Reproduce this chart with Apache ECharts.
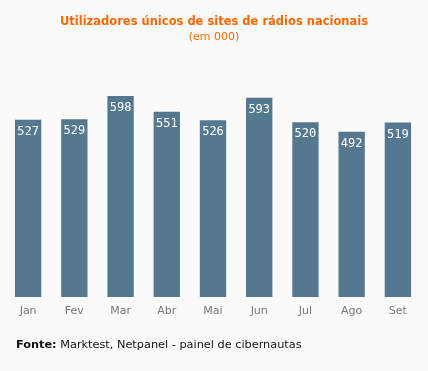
<!DOCTYPE html>
<html><head><meta charset="utf-8">
<script src="https://cdn.jsdelivr.net/npm/echarts@6/dist/echarts.min.js"></script>
<style>html,body{margin:0;padding:0;background:#fafafa;}#c{width:428px;height:371px;}</style>
</head><body><div id="c"></div>
<script>
var categories = ['Jan','Fev','Mar','Abr','Mai','Jun','Jul','Ago','Set'];
var values = [527, 529, 598, 551, 526, 593, 520, 492, 519];
var titleText = 'Utilizadores únicos de sites de rádios nacionais';
var subtitleText = '(em 000)';
var sourceLabel = 'Fonte:';
var sourceText = ' Marktest, Netpanel - painel de cibernautas';

var chart = echarts.init(document.getElementById('c'));
chart.setOption({
  backgroundColor: '#fafafa',
  animation: false,
  title: {
    text: titleText, subtext: subtitleText, left: 'center', top: 11, itemGap: 4,
    textStyle: {color: '#ff6600', fontFamily: 'DejaVu Sans', fontSize: 11.5, fontWeight: 'bold'},
    subtextStyle: {color: '#ff6600', fontFamily: 'DejaVu Sans', fontSize: 11}
  },
  graphic: [{
    type: 'text', left: 16, top: 340,
    style: {
      text: '{b|' + sourceLabel + '}' + sourceText,
      fontFamily: 'DejaVu Sans', fontSize: 11.3, fill: '#111',
      rich: {b: {fontWeight: 'bold', fontFamily: 'DejaVu Sans', fontSize: 11.3, fill: '#111'}}
    }
  }],
  grid: {left: 5, right: 7, top: 96, bottom: 74, containLabel: false},
  xAxis: {
    type: 'category', data: categories,
    axisLine: {show: false}, axisTick: {show: false},
    axisLabel: {color: '#777', fontFamily: 'DejaVu Sans', fontSize: 11, margin: 9}
  },
  yAxis: {type: 'value', min: 0, max: 598, show: false, splitLine: {show: false}},
  series: [{
    type: 'bar', data: values, barCategoryGap: '43%',
    itemStyle: {color: '#557891'},
    label: {show: true, position: 'insideTop', distance: 6, color: '#fff', fontFamily: 'DejaVu Sans Mono', fontSize: 12}
  }]
});
</script></body></html>
